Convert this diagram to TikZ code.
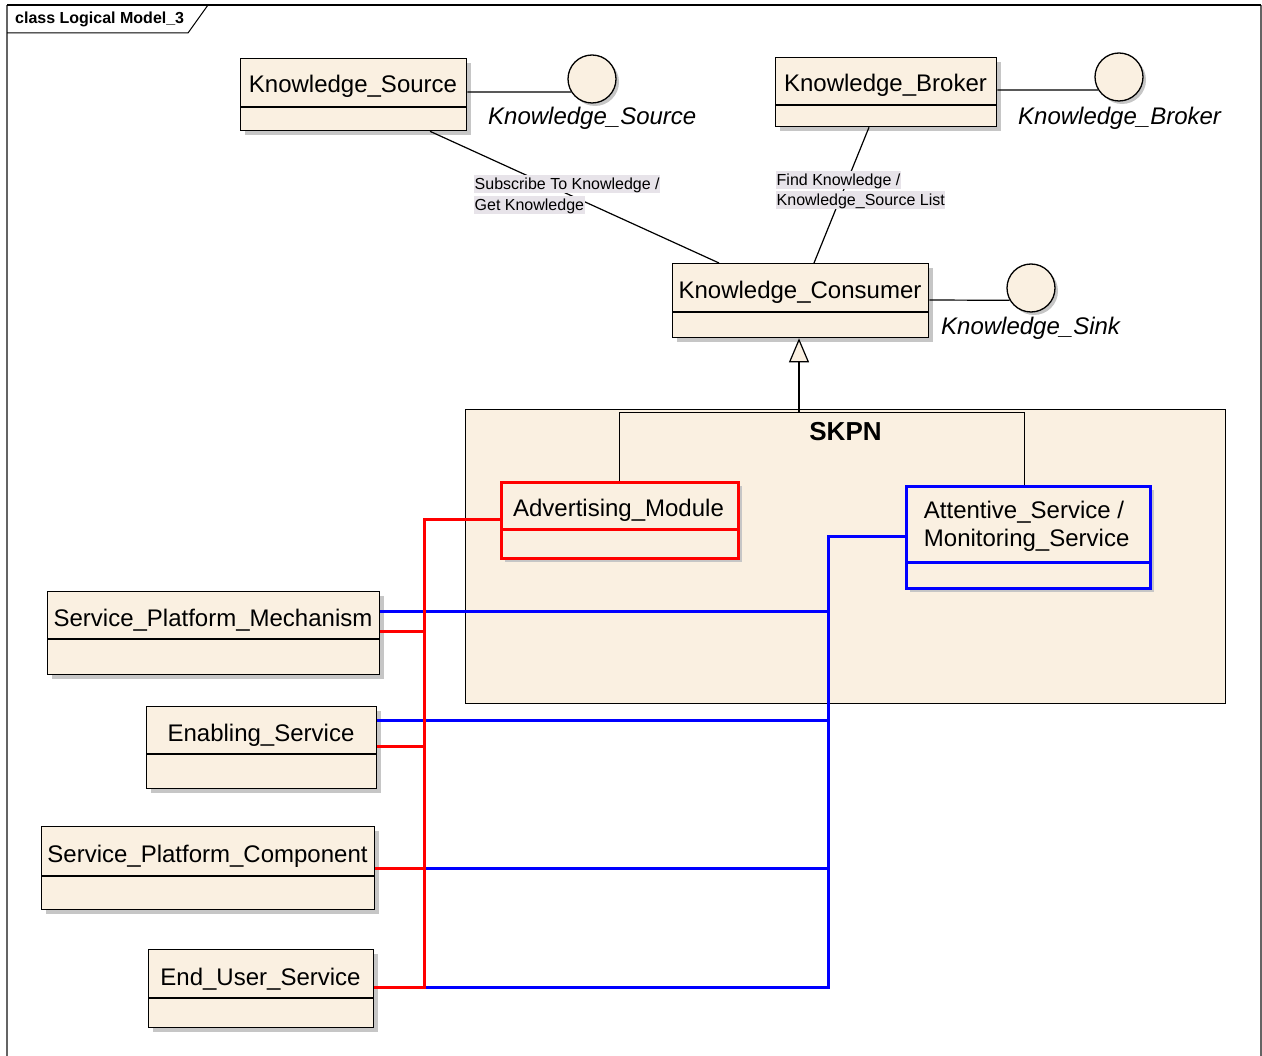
\documentclass[tikz,border=0pt]{standalone}
\usepackage{fontspec}
\setmainfont{Liberation Sans}
\usetikzlibrary{arrows.meta}

\definecolor{cream}{RGB}{250,240,225}
\definecolor{shadowgray}{RGB}{198,198,198}
\definecolor{tagbg}{RGB}{231,227,233}
\definecolor{framegray}{RGB}{100,100,100}
\definecolor{busred}{RGB}{255,0,0}
\definecolor{busblue}{RGB}{0,0,255}

\tikzset{
  classbox/.style={draw=black, fill=cream, line width=1.3pt, inner sep=0pt},
  redbox/.style={draw=busred, line width=3pt},
  bluebox/.style={draw=busblue, line width=3pt},
  boxshadow/.style={fill=shadowgray},
  nametext/.style={font=\fontsize{24pt}{28pt}\selectfont, inner sep=0pt, anchor=base},
  ifacetext/.style={font=\itshape\fontsize{24pt}{28pt}\selectfont, inner sep=0pt, anchor=base west},
  iface/.style={circle, draw=black, fill=cream, line width=1.3pt, minimum size=48pt, inner sep=0pt},
  assoc/.style={draw=black, line width=1.2pt},
  tag/.style={font=\fontsize{16pt}{19pt}\selectfont, fill=tagbg, inner xsep=0.5pt, inner ysep=1pt,
              text height=13.5pt, text depth=2pt, anchor=base west},
  gen/.style={draw=black, line width=1pt},
  redbus/.style={draw=busred, line width=3pt},
  bluebus/.style={draw=busblue, line width=3pt},
  att label/.style={xshift=-3pt},
}

% class with name and empty attribute compartment:
% #1 name, #2 left, #3 top, #4 right, #5 divider, #6 bottom, #7 label, #8 style, #9 label baseline
\newcommand\umlclass[9]{%
  \pgfmathsetmacro\ucw{#4-#2}%
  \pgfmathsetmacro\uch{#6-#3}%
  \fill[boxshadow] ({#2+5},{#3+5}) rectangle ({#4+5},{#6+5});
  \node[classbox,#8,minimum width=\ucw pt,minimum height=\uch pt,anchor=north west] (#1) at (#2,#3) {};
  \draw[classbox,#8,fill=none] (#1.west |- 0,#5) -- (#1.east |- 0,#5);
  \node[nametext,#1 label/.try] (#1-name) at ({(#2+#4)/2},#9) {#7};
}

\begin{document}
\begin{tikzpicture}[x=1pt,y=-1pt]
\useasboundingbox (0,0) rectangle (1262,1056);

% diagram frame and its name tab
\draw[framegray, line width=1.5pt] (7,5) -- (7,1060);
\draw[framegray, line width=1.5pt] (1261,5) -- (1261,1060);
\draw[black, line width=1.2pt] (7,5) -- (1261,5);
\draw[black, line width=1pt] (7,33) -- (188,33) -- (208,5);
\node[font=\bfseries\fontsize{16pt}{19pt}\selectfont, inner sep=0pt, anchor=base west] (title) at (15,24) {class Logical Model\_3};

% SKPN container
\node[draw=black, fill=cream, line width=1pt, minimum width=760pt, minimum height=294pt,
      inner sep=0pt, anchor=north west] (skpn) at (465,409) {};
\node[font=\bfseries\fontsize{26pt}{30pt}\selectfont, inner sep=0pt, anchor=base] (skpn-name) at (845.5,441) {SKPN};

% classes
\umlclass{ks}{240}{58}{466}{107}{130}{Knowledge\_Source}{}{93}
\umlclass{kb}{775}{57}{996}{105}{126}{Knowledge\_Broker}{}{92}
\umlclass{kc}{672}{263}{928}{312}{337}{Knowledge\_Consumer}{}{299}
\umlclass{adv}{500}{481}{737}{530}{557}{Advertising\_Module}{redbox}{517}
\umlclass{att}{905}{485}{1149}{562}{587}{Attentive\_Service /}{bluebox}{519}
\node[nametext, anchor=base west] (att-name2) at (att-name.base west |- 0,547) {Monitoring\_Service};
\umlclass{spm}{47}{591}{379}{639}{674}{Service\_Platform\_Mechanism}{}{626}
\umlclass{es}{146}{706}{376}{754}{788}{Enabling\_Service}{}{741}
\umlclass{spc}{41}{826}{374}{876}{909}{Service\_Platform\_Component}{}{862}
\umlclass{eus}{148}{949}{373}{998}{1027}{End\_User\_Service}{}{985}

% provided interfaces (lollipops)
\fill[shadowgray] (595,82) circle (24pt);
\node[iface] (ksi) at (592,79) {};
\draw[assoc] (ks.east |- 0,92) -- (ksi.212.8);
\node[ifacetext] (ksi-label) at (488,125) {Knowledge\_Source};

\fill[shadowgray] (1122,80) circle (24pt);
\node[iface] (kbi) at (1119,77) {};
\draw[assoc] (kb.east |- 0,90) -- (kbi.212.8);
\node[ifacetext] (kbi-label) at (1018,125) {Knowledge\_Broker};

\fill[shadowgray] (1034,291) circle (24pt);
\node[iface] (kci) at (1031,288) {};
\draw[assoc] (kc.east |- 0,300) -- (kci.210);
\node[ifacetext] (kci-label) at (941,335) {Knowledge\_Sink};

% associations with their labels
\draw[assoc] (430,0 |- ks.south) -- (719,0 |- kc.north);
\draw[assoc] (869,0 |- kb.south) -- (814,0 |- kc.north);
\node[tag] (sub-1) at (474,190) {Subscribe To Knowledge /};
\node[tag] (sub-2) at (474,211) {Get Knowledge};
\node[tag] (find-1) at (776,186) {Find Knowledge /};
\node[tag] (find-2) at (776,206) {Knowledge\_Source List};

% generalization of the SKPN parts
\coordinate (gen-root) at (799,413);
\draw[gen] (619,0 |- adv.north) -- (619,413) -- (1024,413) -- (1024,0 |- att.north);
\draw[gen, line width=1.2pt, -{Triangle[length=24pt, width=20pt, fill=cream]}] (gen-root) -- (799,0 |- kc.south);

% blue links to the attentive service
\coordinate (bb-top) at (828,537);
\coordinate (bb-bot) at (828,987);
\draw[bluebus] (att.west |- bb-top) -- (bb-top) -- (bb-bot) -- (424,987);
\draw[bluebus] (spm.east |- 0,611) -- (828,611);
\draw[bluebus] (es.east |- 0,720) -- (828,720);
\draw[bluebus] (424,868) -- (828,868);

% red links to the advertising module
\coordinate (rb-top) at (424,520);
\coordinate (rb-bot) at (424,987);
\draw[redbus] (adv.west |- rb-top) -- (rb-top) -- (rb-bot) -- (eus.east |- rb-bot);
\draw[redbus] (spm.east |- 0,631) -- (424,631);
\draw[redbus] (es.east |- 0,746) -- (424,746);
\draw[redbus] (spc.east |- 0,868) -- (424,868);
\end{tikzpicture}
\end{document}
